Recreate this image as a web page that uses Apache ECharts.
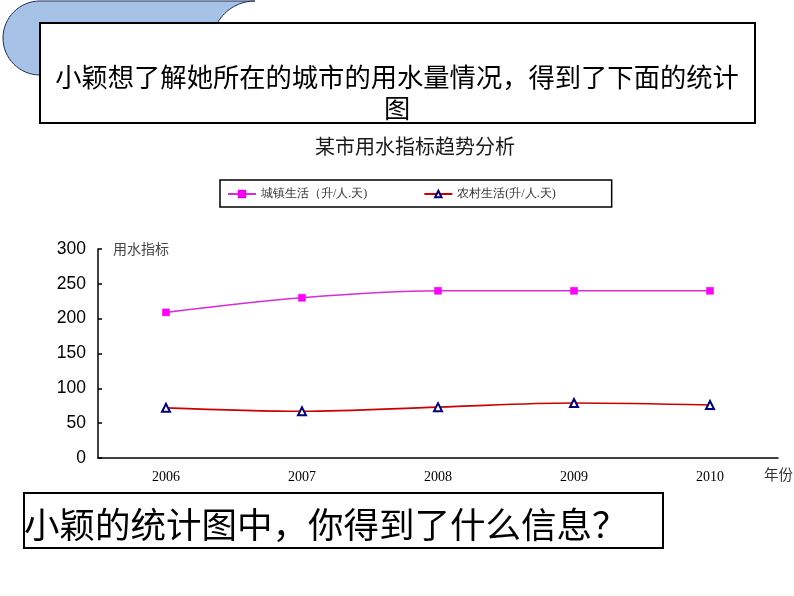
<!DOCTYPE html>
<html>
<head>
<meta charset="utf-8">
<script src="https://cdn.jsdelivr.net/npm/echarts@6/dist/echarts.min.js"></script>
<style>
html,body{margin:0;padding:0;background:#fff;}
#c{width:794px;height:596px;}
</style>
</head>
<body>
<div id="c"></div>
<script>
const years = ['2006', '2007', '2008', '2009', '2010'];
const urbanName = '城镇生活（升/人.天)';
const ruralName = '农村生活(升/人.天)';
const urbanValues = [209, 230, 240, 240, 240];
const ruralValues = [72, 67, 73, 79, 76];
const yTicks = { min: 0, max: 300, interval: 50 };
const headline1 = '小颖想了解她所在的城市的用水量情况，得到了下面的统计';
const headline2 = '图';
const question = '小颖的统计图中，你得到了什么信息？';
const chartTitle = '某市用水指标趋势分析';
const yName = '用水指标';
const xName = '年份';

// decorative tab shape behind the headline box
function arcPts(cx, cy, r, a0, a1, n) {
  const pts = [];
  for (let i = 0; i <= n; i++) {
    const a = (a0 + (a1 - a0) * i / n) * Math.PI / 180;
    pts.push([cx + r * Math.cos(a), cy + r * Math.sin(a)]);
  }
  return pts;
}
const tabPoints = [[40, 1], [255, 1]]
  .concat(arcPts(255, 44, 43, -90, -150, 16))
  .concat([[217, 90], [40, 90]])
  .concat(arcPts(40, 38, 37, 90, 270, 32));

const cjk = '"Noto Sans CJK SC", "Noto Sans", sans-serif';
const chart = echarts.init(document.getElementById('c'));
chart.setOption({
  backgroundColor: '#fff',
  animation: false,
  title: {
    text: chartTitle,
    left: 310,
    top: 131,
    textStyle: { fontFamily: cjk, fontSize: 20, fontWeight: 'normal', color: '#1a1a1a' }
  },
  legend: {
    left: 220, top: 180,
    padding: [8, 56, 7, 7],
    borderColor: '#000', borderWidth: 1.5,
    itemWidth: 28, itemHeight: 8, itemGap: 56,
    textStyle: { fontFamily: '"Liberation Serif", serif', fontSize: 12, color: '#333' },
    data: [urbanName, ruralName]
  },
  grid: { left: 98, right: 16, top: 249, bottom: 138 },
  xAxis: {
    type: 'category',
    data: years,
    boundaryGap: true,
    axisLine: { lineStyle: { color: '#000', width: 1.5 } },
    axisTick: { inside: true, length: 6, lineStyle: { color: '#000', width: 1.5 } },
    axisLabel: { margin: 12, fontFamily: '"Liberation Serif", serif', fontSize: 14, color: '#000' }
  },
  yAxis: {
    type: 'value',
    min: yTicks.min, max: yTicks.max, interval: yTicks.interval,
    axisLine: { show: true, lineStyle: { color: '#000', width: 1.5 } },
    axisTick: { show: true, inside: true, length: 4, lineStyle: { color: '#000', width: 1.5 } },
    splitLine: { show: false },
    axisLabel: { margin: 12, fontFamily: '"Liberation Sans", Arial, sans-serif', fontSize: 17.5, color: '#000' }
  },
  series: [
    {
      name: urbanName, type: 'line', data: urbanValues, smooth: 0.35,
      symbol: 'rect', symbolSize: 7,
      lineStyle: { color: '#d62ed6', width: 1.6 },
      itemStyle: { color: '#ff00ff', borderColor: '#ee00ee', borderWidth: 0.5 }
    },
    {
      name: ruralName, type: 'line', data: ruralValues, smooth: 0.35,
      symbol: 'triangle', symbolSize: 8,
      lineStyle: { color: '#cc0000', width: 1.6 },
      itemStyle: { color: '#fff', borderColor: '#000080', borderWidth: 2 }
    }
  ],
  graphic: [
    {
      type: 'polygon', z: 1,
      shape: { points: tabPoints },
      style: { fill: '#a6c2e6', stroke: '#1f2d55', lineWidth: 1 }
    },
    {
      type: 'rect', z: 2,
      shape: { x: 40, y: 23, width: 715, height: 100 },
      style: { fill: '#fff', stroke: '#000', lineWidth: 2 }
    },
    {
      type: 'text', z: 3, left: 'center', top: 64,
      style: { text: headline1, fontFamily: cjk, fontSize: 26.3, fill: '#000' }
    },
    {
      type: 'text', z: 3, left: 384, top: 95,
      style: { text: headline2, fontFamily: cjk, fontSize: 26.3, fill: '#000' }
    },
    {
      type: 'text', z: 3, left: 113, top: 242,
      style: { text: yName, fontFamily: cjk, fontSize: 14, fill: '#444' }
    },
    {
      type: 'text', z: 3, left: 764, top: 467,
      style: { text: xName, fontFamily: cjk, fontSize: 14.5, fill: '#333' }
    },
    {
      type: 'rect', z: 2,
      shape: { x: 24, y: 493, width: 639, height: 55 },
      style: { fill: '#fff', stroke: '#000', lineWidth: 2 }
    },
    {
      type: 'text', z: 3, left: 24, top: 507,
      style: { text: question, fontFamily: cjk, fontSize: 35.5, fill: '#000' }
    }
  ]
});
</script>
</body>
</html>
